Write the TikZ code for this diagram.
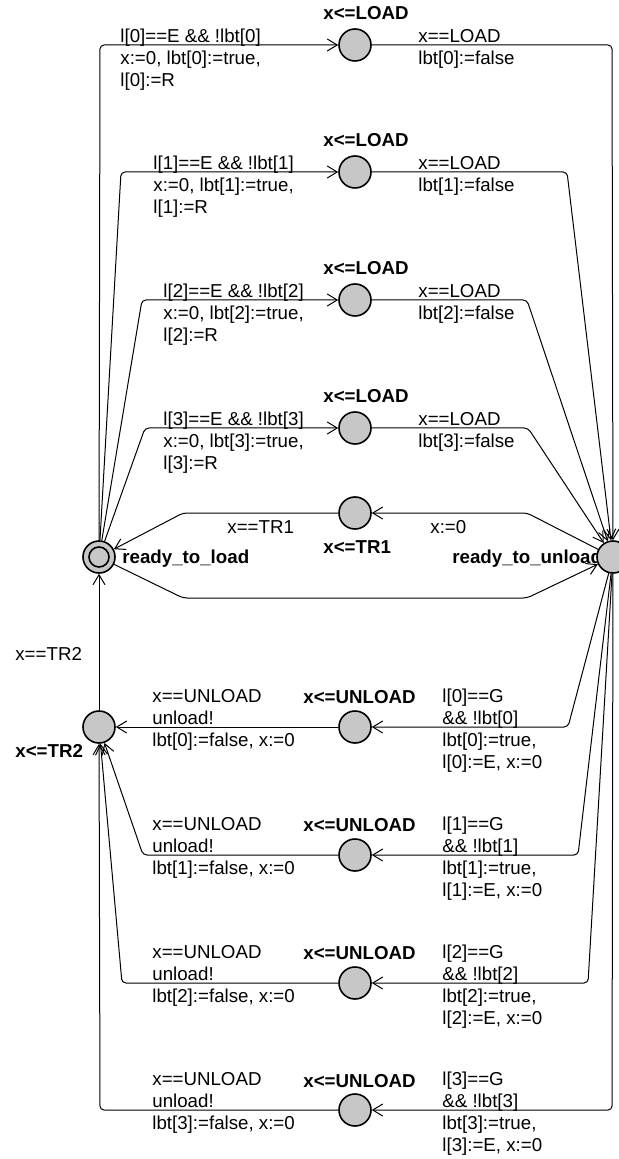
\documentclass[tikz,border=0pt]{standalone}
\usepackage{fontspec}
\setmainfont{Liberation Sans}
\usetikzlibrary{arrows.meta}
\tikzset{
  state/.style={circle, draw, line width=0.8pt, fill=black!22, minimum size=16pt, inner sep=0pt},
  edge/.style={line width=0.5pt, rounded corners=2pt, -{Straight Barb[length=5pt,width=6pt]}},
  lbl/.style={anchor=base west, inner sep=0pt, align=left, font=\fontsize{9.35}{11}\selectfont},
  inv/.style={lbl, font=\fontsize{9.35}{11}\selectfont\bfseries},
}
\begin{document}
\begin{tikzpicture}[x=0.5pt, y=-0.5pt]
\useasboundingbox (0,0) rectangle (618,1159);
% ====== NHÃN CHỮ (neo theo dòng cuối) ======
\node[lbl] (g0) at (120,87) {l[0]==E \&\& !lbt[0]\\x:=0, lbt[0]:=true,\\l[0]:=R};
\node[lbl] (g1) at (153,214) {l[1]==E \&\& !lbt[1]\\x:=0, lbt[1]:=true,\\l[1]:=R};
\node[lbl] (g2) at (163,342) {l[2]==E \&\& !lbt[2]\\x:=0, lbt[2]:=true,\\l[2]:=R};
\node[lbl] (g3) at (163,470) {l[3]==E \&\& !lbt[3]\\x:=0, lbt[3]:=true,\\l[3]:=R};
\node[inv] (i0) at (323,20) {x<=LOAD};
\node[inv] (i1) at (323,147) {x<=LOAD};
\node[inv] (i2) at (323,275) {x<=LOAD};
\node[inv] (i3) at (323,403) {x<=LOAD};
\node[lbl] (f0) at (418,65) {x==LOAD\\lbt[0]:=false};
\node[lbl] (f1) at (418,192) {x==LOAD\\lbt[1]:=false};
\node[lbl] (f2) at (418,320) {x==LOAD\\lbt[2]:=false};
\node[lbl] (f3) at (418,448) {x==LOAD\\lbt[3]:=false};

\node[lbl] (tr1g) at (227,533) {x==TR1};
\node[inv] (tr1i) at (323,553) {x<=TR1};
\node[lbl] (tr1r) at (430,533) {x:=0};
\node[inv] (rln) at (122,563) {ready\_to\_load};
\node[inv] (run) at (452,563) {ready\_to\_unload};
\node[lbl] (tr2g) at (15,660) {x==TR2};
\node[inv] (tr2i) at (15,757) {x<=TR2};

\node[lbl] (u0) at (152,746) {x==UNLOAD\\unload!\\lbt[0]:=false, x:=0};
\node[lbl] (u1) at (152,874) {x==UNLOAD\\unload!\\lbt[1]:=false, x:=0};
\node[lbl] (u2) at (152,1002) {x==UNLOAD\\unload!\\lbt[2]:=false, x:=0};
\node[lbl] (u3) at (152,1129) {x==UNLOAD\\unload!\\lbt[3]:=false, x:=0};
\node[inv] (j0) at (303,703) {x<=UNLOAD};
\node[inv] (j1) at (303,831) {x<=UNLOAD};
\node[inv] (j2) at (303,959) {x<=UNLOAD};
\node[inv] (j3) at (303,1087) {x<=UNLOAD};
\node[lbl] (h0) at (442,768) {l[0]==G\\\&\& !lbt[0]\\lbt[0]:=true,\\l[0]:=E, x:=0};
\node[lbl] (h1) at (442,896) {l[1]==G\\\&\& !lbt[1]\\lbt[1]:=true,\\l[1]:=E, x:=0};
\node[lbl] (h2) at (442,1024) {l[2]==G\\\&\& !lbt[2]\\lbt[2]:=true,\\l[2]:=E, x:=0};
\node[lbl] (h3) at (442,1151) {l[3]==G\\\&\& !lbt[3]\\lbt[3]:=true,\\l[3]:=E, x:=0};

% ====== TRẠNG THÁI ======
\node[state] (rl) at (99,557) {};
\draw[line width=0.8pt] (rl.center) circle (5pt);
\node[state] (ru) at (613,557) {};
\node[state] (ld0) at (355,45) {};
\node[state] (ld1) at (355,172) {};
\node[state] (ld2) at (355,300) {};
\node[state] (ld3) at (355,428) {};
\node[state] (tr1) at (355,513) {};
\node[state] (tr2) at (99,727) {};
\node[state] (ul0) at (355,727) {};
\node[state] (ul1) at (355,855) {};
\node[state] (ul2) at (355,983) {};
\node[state] (ul3) at (355,1110) {};

% ====== CẠNH NẠP ======
\draw[edge] (rl) -- (100,45) -- (ld0);
\draw[edge] (rl) -- (121,172) -- (ld1);
\draw[edge] (rl) -- (142,300) -- (ld2);
\draw[edge] (rl) -- (145,428) -- (ld3);
\draw[edge] (ld0) -- (612,45) -- (ru);
\draw[edge] (ld1) -- (567,172) -- (ru);
\draw[edge] (ld2) -- (527,300) -- (ru);
\draw[edge] (ld3) -- (528,428) -- (ru);

% ====== CẠNH GIỮA ======
\draw[edge] (ru) -- (527,513) -- (tr1);
\draw[edge] (tr1) -- (183,513) -- (rl);
\draw[edge] (rl) -- (183,598) -- (527,598) -- (ru);
\draw[edge] (tr2) -- (rl);

% ====== CẠNH DỠ HÀNG ======
\draw[edge] (ru) -- (568,727) -- (ul0);
\draw[edge] (ru) -- (578,855) -- (ul1);
\draw[edge] (ru) -- (588,983) -- (ul2);
\draw[edge] (ru) -- (612,1110) -- (ul3);
\draw[edge] (ul0) -- (tr2);
\draw[edge] (ul1) -- (143,855) -- (tr2);
\draw[edge] (ul2) -- (122,983) -- (tr2);
\draw[edge] (ul3) -- (100,1110) -- (tr2);
\end{tikzpicture}
\end{document}
